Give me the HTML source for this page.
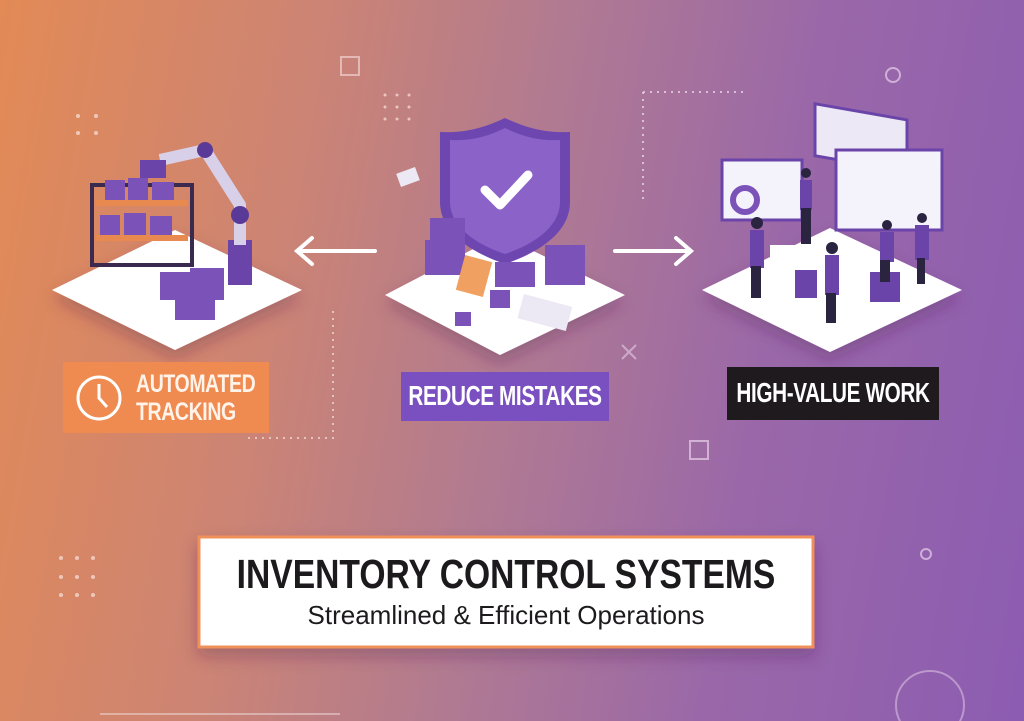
<!DOCTYPE html>
<html><head><meta charset="utf-8"><style>
html,body{margin:0;padding:0}
body{width:1024px;height:721px;overflow:hidden;position:relative;font-family:"Liberation Sans",sans-serif;
background:linear-gradient(100deg,#e38a56 0%,#cc8474 28%,#b07a92 50%,#9a68a8 72%,#8c5cb2 100%);}
.lbl{position:absolute;color:#fff;font-weight:bold;white-space:nowrap;letter-spacing:-0.5px}
.c{text-align:center;transform:scaleX(0.74);transform-origin:center}
</style></head><body>
<svg width="1024" height="721" style="position:absolute;left:0;top:0">
<defs>
<filter id="sh" x="-20%" y="-20%" width="140%" height="160%"><feDropShadow dx="0" dy="8" stdDeviation="8" flood-color="#502050" flood-opacity="0.3"/></filter>
</defs>
<rect x="341" y="57" width="18" height="18" fill="none" stroke="#f0d0d0" stroke-width="2" opacity=".7"/>
<circle cx="893" cy="75" r="7" fill="none" stroke="#e8d0e8" stroke-width="2" opacity=".7"/>
<rect x="690" y="441" width="18" height="18" fill="none" stroke="#e8d0e8" stroke-width="2" opacity=".7"/>
<circle cx="926" cy="554" r="5" fill="none" stroke="#e8d0e8" stroke-width="2" opacity=".7"/>
<path d="M622 345l14 14M636 345l-14 14" stroke="#e8d0e8" stroke-width="2" opacity=".6"/>
<path d="M643 92h100M643 92v110" stroke="#f0e0f0" stroke-width="2" stroke-dasharray="2 5" fill="none" opacity=".7"/>
<path d="M248 438h85V310" stroke="#f0e0e0" stroke-width="2" stroke-dasharray="2 5" fill="none" opacity=".7"/>
<path d="M100 714h240" stroke="#f0e0e0" stroke-width="2" opacity=".5"/>
<circle cx="930" cy="705" r="34" fill="none" stroke="#e8d0e8" stroke-width="2" opacity=".5"/>
<g fill="#f4d8d0" opacity=".8">
<circle cx="61" cy="558" r="2"/><circle cx="77" cy="558" r="2"/><circle cx="93" cy="558" r="2"/>
<circle cx="61" cy="577" r="2"/><circle cx="77" cy="577" r="2"/><circle cx="93" cy="577" r="2"/>
<circle cx="61" cy="595" r="2"/><circle cx="77" cy="595" r="2"/><circle cx="93" cy="595" r="2"/>
<circle cx="78" cy="116" r="2"/><circle cx="96" cy="116" r="2"/><circle cx="78" cy="133" r="2"/><circle cx="96" cy="133" r="2"/>
<circle cx="385" cy="95" r="1.5"/><circle cx="397" cy="95" r="1.5"/><circle cx="409" cy="95" r="1.5"/>
<circle cx="385" cy="107" r="1.5"/><circle cx="397" cy="107" r="1.5"/><circle cx="409" cy="107" r="1.5"/>
<circle cx="385" cy="119" r="1.5"/><circle cx="397" cy="119" r="1.5"/><circle cx="409" cy="119" r="1.5"/>
</g>
<path d="M375 251H297M312 238l-15 13 15 13" stroke="#fff" stroke-width="4" fill="none" stroke-linecap="round"/>
<path d="M615 251h75M676 238l15 13-15 13" stroke="#fff" stroke-width="4" fill="none" stroke-linecap="round"/>
<polygon points="175,230 302,290 175,350 52,290" fill="#fff" filter="url(#sh)"/>
<polygon points="500,235 625,295 500,355 385,295" fill="#fff" filter="url(#sh)"/>
<polygon points="830,228 962,290 830,352 702,290" fill="#fff" filter="url(#sh)"/>
<g>
<rect x="92" y="185" width="100" height="80" fill="none" stroke="#3a2a50" stroke-width="4"/>
<rect x="96" y="200" width="92" height="6" fill="#e8894f"/>
<rect x="96" y="235" width="92" height="6" fill="#e8894f"/>
<g fill="#7a52b8"><rect x="105" y="180" width="20" height="20"/><rect x="128" y="178" width="20" height="22"/><rect x="152" y="182" width="22" height="18"/>
<rect x="100" y="215" width="20" height="20"/><rect x="124" y="213" width="22" height="22"/><rect x="150" y="216" width="22" height="19"/>
<rect x="160" y="272" width="30" height="28"/><rect x="190" y="268" width="34" height="32"/><rect x="175" y="295" width="40" height="25"/></g>
<rect x="228" y="240" width="24" height="45" fill="#6a44a8"/>
<path d="M240 245V205L205 150L160 160" stroke="#d8d0e8" stroke-width="12" fill="none" stroke-linejoin="round"/>
<circle cx="240" cy="215" r="9" fill="#5a3a98"/><circle cx="205" cy="150" r="8" fill="#5a3a98"/>
<rect x="140" y="160" width="26" height="18" fill="#6a44a8"/>
</g>
<path d="M505 118c25 12 45 15 65 14v70c0 30-30 50-65 62c-35-12-65-32-65-62v-70c20 1 40-2 65-14z" fill="#6d46b0"/>
<path d="M505 128c20 10 38 13 55 12v62c0 24-25 42-55 52c-30-10-55-28-55-52v-62c17 1 35-2 55-12z" fill="#8a62c8"/>
<path d="M485 190l15 15 28-30" stroke="#fff" stroke-width="9" fill="none" stroke-linecap="round" stroke-linejoin="round"/>
<g fill="#7a52b8"><rect x="425" y="240" width="40" height="35"/><rect x="430" y="218" width="35" height="25"/><rect x="495" y="262" width="40" height="25"/><rect x="545" y="245" width="40" height="40"/><rect x="490" y="290" width="20" height="18"/><rect x="455" y="312" width="16" height="14"/></g>
<rect x="460" y="258" width="28" height="36" fill="#f0a060" transform="rotate(15 474 276)"/>
<rect x="520" y="300" width="50" height="25" fill="#ece8f4" transform="rotate(15 545 312)"/>
<rect x="398" y="170" width="20" height="14" fill="#ece8f4" transform="rotate(-20 408 177)"/>
<g>
<rect x="815" y="110" width="92" height="52" fill="#ece8f6" stroke="#6a44a8" stroke-width="3" transform="skewY(10) translate(0,-150)"/>
<rect x="722" y="160" width="80" height="60" fill="#f4f2fa" stroke="#6a44a8" stroke-width="3"/>
<circle cx="745" cy="200" r="12" fill="none" stroke="#7a52b8" stroke-width="6"/>
<rect x="836" y="150" width="106" height="80" fill="#f4f2fa" stroke="#6a44a8" stroke-width="3"/>
<rect x="770" y="245" width="90" height="30" fill="#fff"/>
<g fill="#6a44a8"><rect x="750" y="230" width="14" height="38"/><rect x="825" y="255" width="14" height="40"/><rect x="800" y="180" width="12" height="30"/><rect x="880" y="232" width="14" height="30"/><rect x="915" y="225" width="14" height="35"/><rect x="870" y="272" width="30" height="30"/><rect x="795" y="270" width="22" height="28"/></g>
<g fill="#2a2440"><rect x="751" y="266" width="10" height="32"/><rect x="826" y="293" width="10" height="30"/><rect x="801" y="208" width="10" height="36"/><rect x="880" y="260" width="10" height="22"/><rect x="917" y="258" width="8" height="26"/></g>
<g fill="#2a2440"><circle cx="757" cy="223" r="6"/><circle cx="832" cy="248" r="6"/><circle cx="806" cy="173" r="5"/><circle cx="887" cy="225" r="5"/><circle cx="922" cy="218" r="5"/></g>
</g>
<rect x="199" y="537" width="614" height="110" fill="#fff" stroke="#f0905a" stroke-width="3" filter="url(#sh)"/>
<rect x="63" y="362" width="206" height="71" fill="#ef8a50"/>
<circle cx="99" cy="398" r="21" fill="none" stroke="#fff" stroke-width="3"/>
<path d="M99 384v14l8 9" stroke="#fff" stroke-width="3" fill="none"/>
<rect x="401" y="372" width="208" height="49" fill="#7a4fc0"/>
<rect x="727" y="367" width="212" height="53" fill="#1e1a1e"/>
</svg>
<div class="lbl" style="left:136px;top:370px;font-size:25px;line-height:28px;color:#fff3ea;transform:scaleX(0.78);transform-origin:left">AUTOMATED<br>TRACKING</div>
<div class="lbl c" style="left:351px;top:380px;width:308px;font-size:28px">REDUCE MISTAKES</div>
<div class="lbl c" style="left:683px;top:377px;width:300px;font-size:28px">HIGH-VALUE WORK</div>
<div class="lbl c" style="left:106px;top:551px;width:800px;font-size:41px;color:#1c1a1c;letter-spacing:0;transform:scaleX(0.82)">INVENTORY CONTROL SYSTEMS</div>
<div style="position:absolute;left:199px;top:600px;width:614px;text-align:center;font-size:26px;color:#1c1a1c;white-space:nowrap">Streamlined &amp; Efficient Operations</div>
</body></html>
